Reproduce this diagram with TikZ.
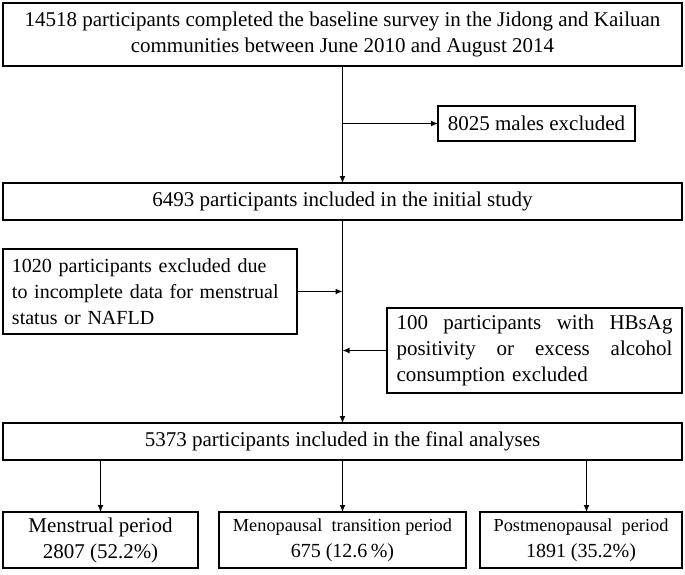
\documentclass[tikz,border=0pt]{standalone}
\usepackage{fontspec}
\setmainfont{Liberation Serif}
\usetikzlibrary{arrows.meta}

\begin{document}
\begin{tikzpicture}[x=1pt, y=-1pt, every node/.style={font=\rmfamily\fontsize{21}{26}\selectfont},
	box/.style={draw, line width=1.6pt, inner sep=0pt, outer sep=0pt},
	arr/.style={line width=1.2pt, -{Latex[length=7pt, width=6pt]}}]
	\useasboundingbox (0,0) rectangle (685,574);
	\node[box, minimum width=679pt, minimum height=63pt, align=center] (survey) at (342.5,34.5)
		{14518 participants completed the baseline survey in the Jidong and Kailuan\\communities between June 2010 and August 2014};
	\node[box, minimum width=197pt, minimum height=35pt] (males) at (536.5,123.5) {8025 males excluded};
	\node[box, minimum width=679pt, minimum height=37pt] (initial) at (342.5,201.5)
		{6493 participants included in the initial study};
	\node[box, minimum width=294pt, minimum height=85pt, text width=276pt, align=left,
		font=\rmfamily\fontsize{20}{26}\selectfont] (incompl) at (150,291.5)
		{1020 participants excluded due\\to incomplete data for menstrual\\status or NAFLD};
	\node[box, minimum width=295pt, minimum height=85pt, text width=276pt, align=left] (hbsag) at (534.5,350.5)
		{\makebox[276pt]{100\hfill participants\hfill with\hfill HBsAg}\\\makebox[276pt]{positivity\hfill or\hfill excess\hfill alcohol}\\consumption excluded};
	\node[box, minimum width=679pt, minimum height=37pt] (final) at (342.5,441.5)
		{5373 participants included in the final analyses};
	% three groups
	\node[box, minimum width=195pt, minimum height=56pt, align=center] (menstr) at (100.5,540)
		{Menstrual period\\2807 (52.2\%)};
	\node[box, minimum width=247pt, minimum height=56pt, align=center] (transit) at (342.5,540)
		{{\fontsize{18.3}{26}\selectfont Menopausal\ \ transition period}\\{\fontsize{20}{26}\selectfont 675 (12.6\,\%)}};
	\node[box, minimum width=202pt, minimum height=56pt, align=center] (postm) at (581,540)
		{{\fontsize{18.3}{26}\selectfont Postmenopausal\ \ period}\\{\fontsize{20}{26}\selectfont 1891 (35.2\%)}};

	\coordinate (split) at (survey.south |- males.west);
	\coordinate (pm) at ([xshift=5.5pt]postm.north);
	\draw[arr] (survey.south) -- (initial.north);
	\draw[arr] (split) -- (males.west);
	\draw[arr] (initial.south) -- (final.north);
	\draw[arr] (incompl.east) -- (incompl.east -| initial.south);
	\draw[arr] (hbsag.west) -- (hbsag.west -| initial.south);
	\draw[arr] (final.south -| menstr.north) -- (menstr.north);
	\draw[arr] (final.south) -- (transit.north);
	\draw[arr] (final.south -| pm) -- (pm);
\end{tikzpicture}
\end{document}
